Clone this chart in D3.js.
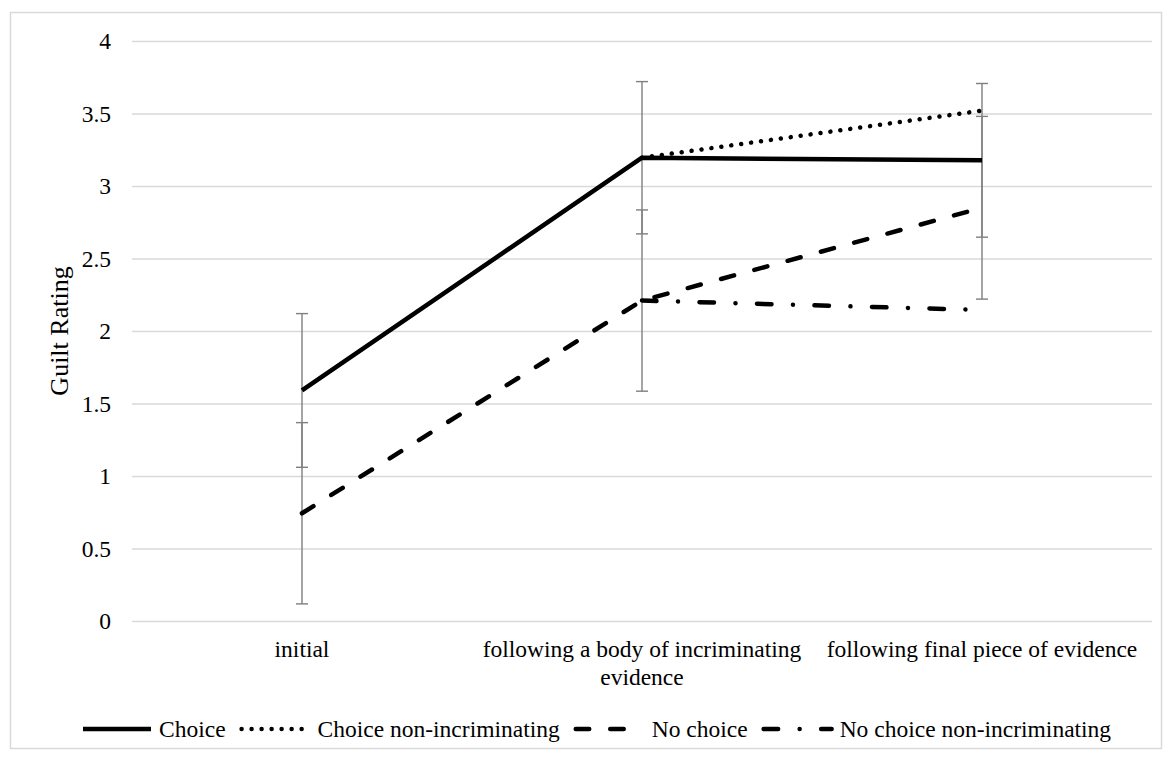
<!DOCTYPE html>
<html>
<head>
<meta charset="utf-8">
<script src="https://cdn.jsdelivr.net/npm/d3@7"></script>
<style>
  body { margin: 0; background: #fff; }
  text { font-family: "Liberation Serif", "Times New Roman", serif; fill: #000; }
</style>
</head>
<body>
<svg id="chart" width="1172" height="760"></svg>
<script>
// categories (x axis)
var categories = ['initial', 'following a body of incriminating evidence', 'following final piece of evidence'];

// series values, null = no point
var choice = [1.59, 3.195, 3.177];
var choiceNonInc = [null, 3.195, 3.52];
var noChoice = [0.743, 2.21, 2.85];
var noChoiceNonInc = [null, 2.21, 2.145];

// error bar half widths (only shown for Choice / No choice)
var choiceErr = [0.53, 0.525, 0.53];
var noChoiceErr = [0.625, 0.625, 0.63];

var yTicks = [0, 0.5, 1, 1.5, 2, 2.5, 3, 3.5, 4];

var seriesNames = ['Choice', 'Choice non-incriminating', 'No choice', 'No choice non-incriminating'];

var series = [
    {name: seriesNames[0], values: choice, err: choiceErr, dash: null},
    {name: seriesNames[1], values: choiceNonInc, err: null, dash: '0.01 10'},
    {name: seriesNames[2], values: noChoice, err: noChoiceErr, dash: '13.5 21'},
    {name: seriesNames[3], values: noChoiceNonInc, err: null, dash: '14.5 21.5 0.01 21.5'}
];

var svg = d3.select('#chart');
var fontSize = 23.5;

// outer chart border
svg.append('rect')
    .attr('x', 10.5).attr('y', 12.5)
    .attr('width', 1151).attr('height', 736)
    .attr('fill', 'none')
    .attr('stroke', '#d9d9d9')
    .attr('stroke-width', 1.5);

var plot = {left: 132, right: 1152, top: 41, bottom: 621};

var x = d3.scaleBand().domain(categories).range([plot.left, plot.right]);
var y = d3.scaleLinear().domain([0, 4]).range([plot.bottom, plot.top]);
function cx(i) { return x(categories[i]) + x.bandwidth() / 2; }

// gridlines + y tick labels
var yAxis = d3.axisLeft(y).tickValues(yTicks).tickSize(-(plot.right - plot.left)).tickPadding(21)
    .tickFormat(d3.format('~g'));
var gy = svg.append('g').attr('transform', 'translate(' + plot.left + ',0)').call(yAxis);
gy.select('.domain').remove();
gy.selectAll('.tick line').attr('stroke', '#d9d9d9').attr('stroke-width', 1.3);
gy.selectAll('.tick text')
    .style('font-size', fontSize + 'px')
    .style('font-family', '"Liberation Serif", serif')
    .attr('fill', '#000');

// y axis title
svg.append('text')
    .attr('transform', 'translate(68,' + ((plot.top + plot.bottom) / 2) + ') rotate(-90)')
    .attr('text-anchor', 'middle')
    .style('font-size', '26px')
    .text('Guilt Rating');

// x category labels, wrapped to band width
function wrapLabel(label, maxW) {
    var words = label.split(' ');
    var lines = [];
    var cur = '';
    var probe = svg.append('text').style('font-size', fontSize + 'px');
    words.forEach(function(w) {
        var test = cur ? cur + ' ' + w : w;
        probe.text(test);
        if (probe.node().getComputedTextLength() > maxW && cur) {
            lines.push(cur);
            cur = w;
        } else {
            cur = test;
        }
    });
    lines.push(cur);
    probe.remove();
    return lines;
}

categories.forEach(function(c, i) {
    var lines = wrapLabel(c, x.bandwidth() - 4);
    var t = svg.append('text')
        .attr('text-anchor', 'middle')
        .style('font-size', fontSize + 'px');
    lines.forEach(function(l, k) {
        t.append('tspan').attr('x', cx(i)).attr('y', 657 + k * 28).text(l);
    });
});

// error bars
var gErr = svg.append('g');
series.forEach(function(s) {
    if (!s.err) return;
    s.values.forEach(function(v, i) {
        if (v == null) return;
        var hi = y(v + s.err[i]), lo = y(v - s.err[i]), px = cx(i);
        gErr.append('line').attr('x1', px).attr('x2', px).attr('y1', hi).attr('y2', lo);
        gErr.append('line').attr('x1', px - 6).attr('x2', px + 6).attr('y1', hi).attr('y2', hi);
        gErr.append('line').attr('x1', px - 6).attr('x2', px + 6).attr('y1', lo).attr('y2', lo);
    });
});
gErr.selectAll('line').attr('stroke', '#7f7f7f').attr('stroke-width', 1.4);

// series lines
var line = d3.line()
    .defined(function(d) { return d != null; })
    .x(function(d, i) { return cx(i); })
    .y(function(d) { return y(d); });

series.forEach(function(s) {
    svg.append('path')
        .datum(s.values)
        .attr('d', line)
        .attr('fill', 'none')
        .attr('stroke', '#000')
        .attr('stroke-width', 4.5)
        .attr('stroke-linecap', s.dash ? 'round' : 'butt')
        .attr('stroke-linejoin', 'round')
        .attr('stroke-dasharray', s.dash);
});

// legend
var lx = 83, ly = 729;
series.forEach(function(s) {
    svg.append('line')
        .attr('x1', lx).attr('x2', lx + 68)
        .attr('y1', ly).attr('y2', ly)
        .attr('stroke', '#000')
        .attr('stroke-width', 4.5)
        .attr('stroke-linecap', s.dash ? 'round' : 'butt')
        .attr('stroke-dasharray', s.dash);
    var t = svg.append('text')
        .attr('x', lx + 76).attr('y', ly + 8)
        .style('font-size', fontSize + 'px')
        .text(s.name);
    lx = lx + 76 + t.node().getComputedTextLength() + 16;
});
</script>
</body>
</html>
